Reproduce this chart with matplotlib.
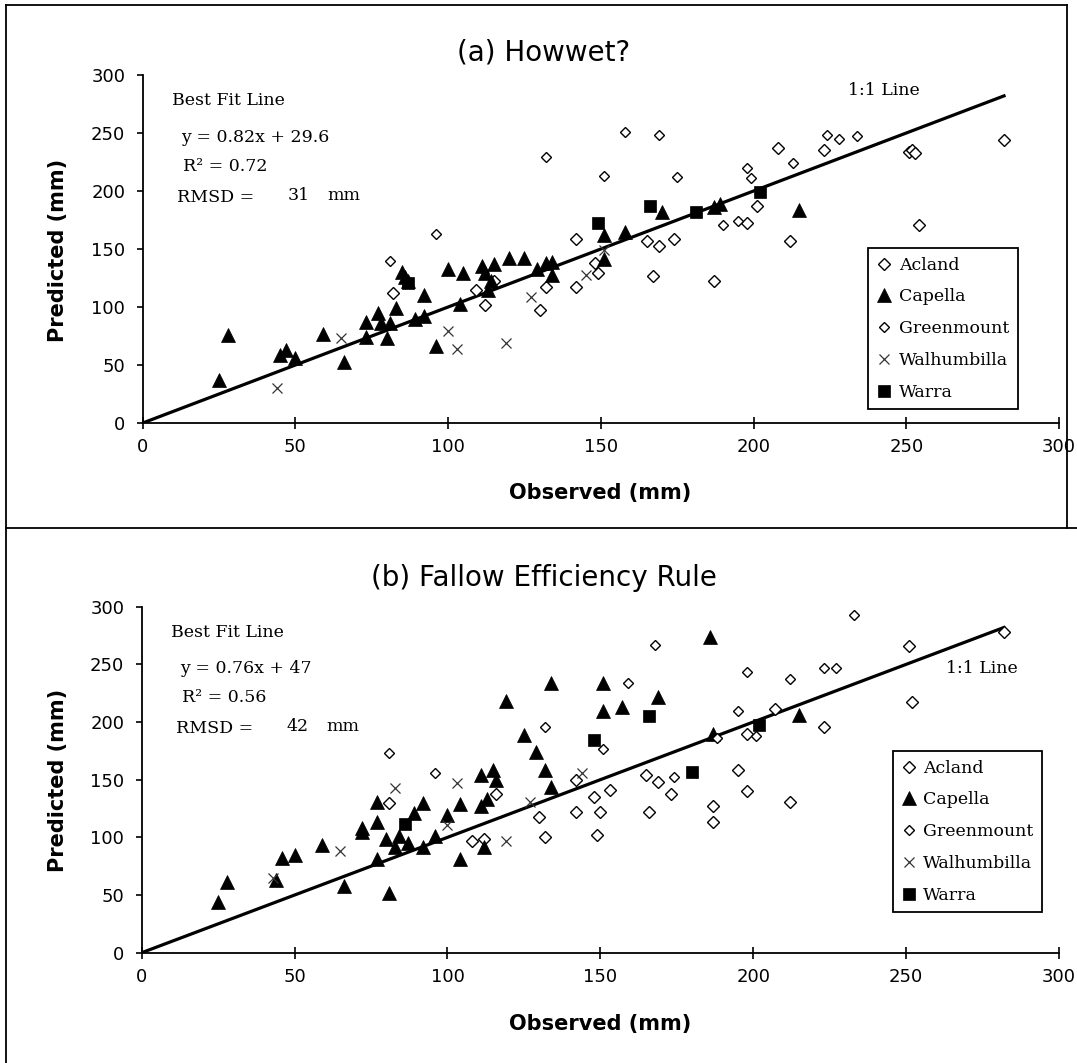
import matplotlib.pyplot as plt
from matplotlib.lines import Line2D

# ---- data (Observed, Predicted, mm) ----
sites = ['Acland', 'Capella', 'Greenmount', 'Walhumbilla', 'Warra']
axis_ticks = [0, 50, 100, 150, 200, 250, 300]
one_to_one = [0, 282]

# (a) Howwet?
a_acland_x = [82, 109, 112, 115, 130, 132, 142, 142, 148, 149, 165, 167, 169, 174, 187,
              198, 201, 208, 212, 223, 251, 252, 253, 254, 282]
a_acland_y = [112, 115, 102, 122, 97, 117, 159, 117, 138, 129, 157, 127, 153, 159, 122,
              172, 187, 237, 157, 235, 234, 235, 233, 171, 244]
a_capella_x = [25, 28, 45, 47, 50, 59, 66, 73, 73, 77, 78, 80, 81, 83, 85, 86, 87, 89, 92, 92,
               96, 100, 104, 105, 111, 112, 113, 114, 115, 120, 125, 129, 132, 134, 134,
               151, 151, 158, 170, 187, 189, 215]
a_capella_y = [37, 76, 59, 63, 56, 77, 53, 87, 74, 95, 86, 73, 86, 99, 130, 126, 122, 90, 92, 110,
               66, 133, 103, 129, 135, 129, 115, 122, 137, 142, 142, 133, 138, 139, 128,
               162, 141, 165, 182, 186, 189, 184]
a_green_x = [81, 96, 132, 151, 158, 169, 175, 190, 195, 198, 199, 213, 224, 228, 234]
a_green_y = [140, 163, 229, 213, 251, 248, 212, 171, 174, 220, 211, 224, 248, 245, 247]
a_walh_x = [44, 65, 100, 103, 119, 127, 145, 151]
a_walh_y = [30, 73, 79, 64, 69, 109, 128, 149]
a_warra_x = [87, 149, 166, 181, 202]
a_warra_y = [121, 172, 187, 182, 199]

# (b) Fallow Efficiency Rule
b_acland_x = [81, 108, 112, 116, 130, 132, 142, 142, 148, 149, 150, 153, 165, 166, 169,
              173, 187, 187, 195, 198, 198, 207, 212, 223, 251, 252, 282]
b_acland_y = [130, 97, 99, 138, 118, 100, 150, 122, 135, 102, 122, 141, 154, 122, 148,
              138, 127, 113, 158, 140, 190, 211, 131, 196, 266, 217, 278]
b_capella_x = [25, 28, 44, 46, 50, 59, 66, 72, 72, 77, 77, 77, 80, 81, 83, 84, 87, 89, 92, 92,
               96, 100, 104, 104, 111, 111, 112, 113, 115, 116, 119, 125, 129, 132, 134, 134,
               151, 151, 157, 169, 186, 187, 215]
b_capella_y = [44, 61, 63, 82, 85, 93, 58, 108, 105, 131, 113, 81, 99, 52, 92, 101, 95, 121, 130, 92,
               101, 119, 81, 129, 154, 127, 92, 133, 158, 150, 218, 189, 174, 158, 144, 234,
               234, 210, 213, 222, 274, 190, 206]
b_green_x = [81, 96, 132, 151, 159, 168, 174, 188, 195, 198, 201, 212, 223, 227, 233]
b_green_y = [173, 156, 196, 177, 234, 267, 152, 186, 210, 243, 188, 237, 247, 247, 293]
b_walh_x = [43, 65, 83, 100, 103, 119, 127, 144]
b_walh_y = [65, 88, 143, 111, 147, 97, 131, 156]
b_warra_x = [86, 148, 166, 180, 202]
b_warra_y = [112, 184, 205, 157, 197]

panels = [
    dict(title='(a) Howwet?', eq='y = 0.82x + 29.6', r2='R² = 0.72', rmsd='31',
         series=[(a_acland_x, a_acland_y), (a_capella_x, a_capella_y), (a_green_x, a_green_y),
                 (a_walh_x, a_walh_y), (a_warra_x, a_warra_y)]),
    dict(title='(b) Fallow Efficiency Rule', eq='y = 0.76x + 47', r2='R² = 0.56', rmsd='42',
         series=[(b_acland_x, b_acland_y), (b_capella_x, b_capella_y), (b_green_x, b_green_y),
                 (b_walh_x, b_walh_y), (b_warra_x, b_warra_y)]),
]

# marker look for each site
styles = [
    dict(marker='D', ms=6.6, mfc='white', mec='black', mew=1.0),
    dict(marker='^', ms=9.5, mfc='black', mec='black', mew=0.5),
    dict(marker='D', ms=5.0, mfc='white', mec='black', mew=1.0),
    dict(marker='x', ms=7.0, mfc='none', mec='#333333', mew=0.9),
    dict(marker='s', ms=8.0, mfc='black', mec='black', mew=0.5),
]

W, H = 1077, 1063
fig = plt.figure(figsize=(W / 100, H / 100), dpi=100)

ax_boxes = [[142.7 / W, 1 - 423 / H, (1059 - 142.7) / W, (423 - 75) / H],
            [141.7 / W, 1 - 952.7 / H, (1059 - 141.7) / W, (952.7 - 606.7) / H]]
title_y = [53, 578]
ylab_y = [250, 780]
xlab_y = [493, 1024]
leg_anchor = [(0.792, 0.503), (0.819, 0.583)]
oneone_pos = [(231, 287), (263, 246)]

serif = 'DejaVu Serif'

for i, p in enumerate(panels):
    ax = fig.add_axes(ax_boxes[i])
    ax.plot(one_to_one, one_to_one, color='black', lw=2.3, zorder=2)
    for name, (xs, ys), st in zip(sites, p['series'], styles):
        ax.plot(xs, ys, linestyle='none', label=name, zorder=3, **st)

    ax.set_xlim(0, 300)
    ax.set_ylim(0, 300)
    ax.set_xticks(axis_ticks)
    ax.set_yticks(axis_ticks)
    for s in ['top', 'right']:
        ax.spines[s].set_visible(False)
    for s in ['left', 'bottom']:
        ax.spines[s].set_linewidth(1.3)
    ax.tick_params(axis='x', direction='inout', length=8, width=1.2, pad=7, labelsize=13)
    ax.tick_params(axis='y', direction='out', length=4.5, width=1.2, pad=8, labelsize=13)

    # fit statistics
    ax.text(9.6, 277.6, 'Best Fit Line', family=serif, fontsize=12.5, va='center')
    ax.text(12.5, 246, p['eq'], family=serif, fontsize=12.5, va='center')
    ax.text(13.2, 221, p['r2'], family=serif, fontsize=12.5, va='center')
    ax.text(11.2, 194, 'RMSD =', family=serif, fontsize=12.5, va='center')
    ax.text(47.5, 196, p['rmsd'], family=serif, fontsize=12.5, va='center')
    ax.text(60.3, 196, 'mm', family=serif, fontsize=12.5, va='center')
    ax.text(*oneone_pos[i], '1:1 Line', family=serif, fontsize=12.5, va='center')

    leg = ax.legend(loc='upper left', bbox_to_anchor=leg_anchor[i], borderaxespad=0,
                    numpoints=1, frameon=True, fancybox=False, framealpha=1,
                    edgecolor='black', prop=dict(family=serif, size=12.5),
                    labelspacing=0.85, borderpad=0.5, handlelength=0.8, handletextpad=0.45)
    leg.get_frame().set_linewidth(1.3)

    fig.text(544 / W, 1 - title_y[i] / H, p['title'], ha='center', va='center', fontsize=20)
    fig.text(58 / W, 1 - ylab_y[i] / H, 'Predicted (mm)', rotation=90, ha='center',
             va='center', fontsize=15, fontweight='bold')
    fig.text(600 / W, 1 - xlab_y[i] / H, 'Observed (mm)', ha='center', va='center',
             fontsize=15, fontweight='bold')

# outer frame of the figure
frame = dict(color='black', lw=1.3, transform=fig.transFigure)
fig.add_artist(Line2D([6 / W, 6 / W], [0, 1 - 5 / H], **frame))
fig.add_artist(Line2D([6 / W, 1067 / W], [1 - 5 / H, 1 - 5 / H], **frame))
fig.add_artist(Line2D([1067 / W, 1067 / W], [1 - 5 / H, 1 - 528 / H], **frame))
fig.add_artist(Line2D([6 / W, 1], [1 - 528 / H, 1 - 528 / H], **frame))

fig.savefig('out.png', dpi=100)
